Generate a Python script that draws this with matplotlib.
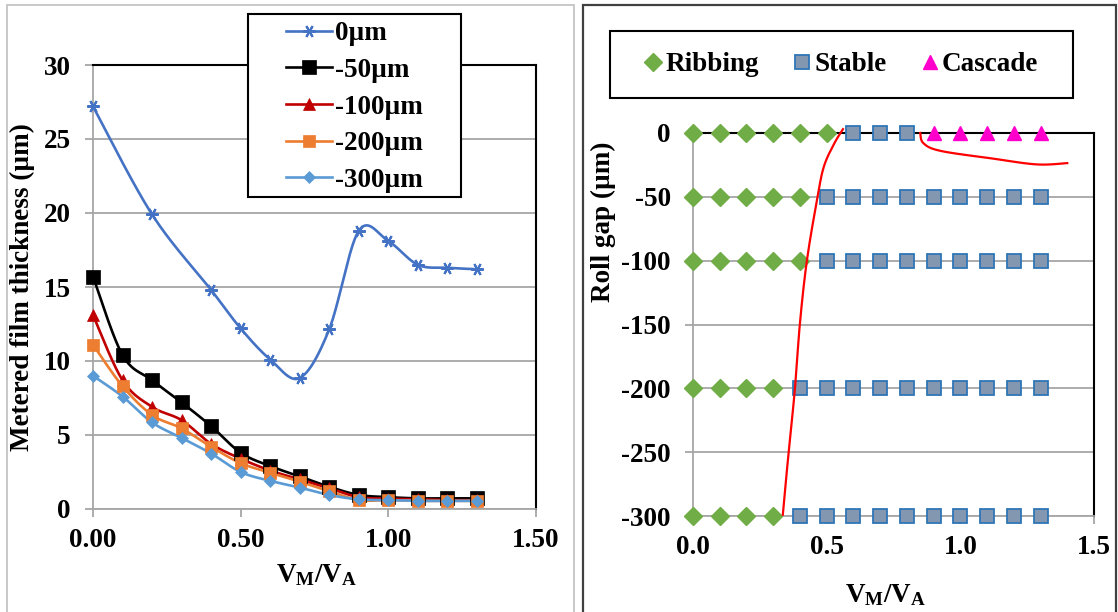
import numpy as np
import matplotlib
matplotlib.use("Agg")
import matplotlib.pyplot as plt
from matplotlib.patches import Rectangle
from matplotlib.ticker import FormatStrFormatter

plt.rcParams['font.family'] = ['Liberation Serif', 'DejaVu Serif']
plt.rcParams['font.weight'] = 'bold'
plt.rcParams['axes.labelweight'] = 'bold'
plt.rcParams['axes.unicode_minus'] = False
plt.rcParams['mathtext.fontset'] = 'custom'
plt.rcParams['mathtext.rm'] = 'Liberation Serif:bold'
plt.rcParams['mathtext.it'] = 'Liberation Serif:bold'
plt.rcParams['mathtext.bf'] = 'Liberation Serif:bold'

# ---- datos panel izquierdo (espesor de pelicula) ----
vm_0 = [0.0, 0.2, 0.4, 0.5, 0.6, 0.7, 0.8, 0.9, 1.0, 1.1, 1.2, 1.3]
h_0 = [27.2, 19.9, 14.8, 12.2, 10.1, 8.85, 12.15, 18.8, 18.1, 16.5, 16.3, 16.2]

vm = [0.0, 0.1, 0.2, 0.3, 0.4, 0.5, 0.6, 0.7, 0.8, 0.9, 1.0, 1.1, 1.2, 1.3]
h_50 = [15.7, 10.4, 8.7, 7.2, 5.6, 3.8, 2.9, 2.2, 1.5, 0.95, 0.8, 0.72, 0.72, 0.72]
h_100 = [13.1, 8.7, 6.9, 6.0, 4.4, 3.4, 2.6, 2.0, 1.4, 0.8, 0.7, 0.65, 0.6, 0.6]
h_200 = [11.1, 8.3, 6.35, 5.45, 4.2, 3.1, 2.45, 1.85, 1.2, 0.6, 0.6, 0.55, 0.55, 0.55]
h_300 = [9.0, 7.6, 5.85, 4.8, 3.75, 2.5, 1.9, 1.45, 0.95, 0.65, 0.6, 0.55, 0.55, 0.55]

# ---- datos panel derecho (mapa de estabilidad) ----
ribbing_x = [0.0, 0.1, 0.2, 0.3, 0.4, 0.5,
             0.0, 0.1, 0.2, 0.3, 0.4,
             0.0, 0.1, 0.2, 0.3, 0.4,
             0.0, 0.1, 0.2, 0.3,
             0.0, 0.1, 0.2, 0.3]
ribbing_y = [0] * 6 + [-50] * 5 + [-100] * 5 + [-200] * 4 + [-300] * 4

stable_x = ([0.6, 0.7, 0.8]
            + [0.5, 0.6, 0.7, 0.8, 0.9, 1.0, 1.1, 1.2, 1.3]
            + [0.5, 0.6, 0.7, 0.8, 0.9, 1.0, 1.1, 1.2, 1.3]
            + [0.4, 0.5, 0.6, 0.7, 0.8, 0.9, 1.0, 1.1, 1.2, 1.3]
            + [0.4, 0.5, 0.6, 0.7, 0.8, 0.9, 1.0, 1.1, 1.2, 1.3])
stable_y = [0] * 3 + [-50] * 9 + [-100] * 9 + [-200] * 10 + [-300] * 10

cascade_x = [0.9, 1.0, 1.1, 1.2, 1.3]
cascade_y = [0, 0, 0, 0, 0]

# curvas limite dibujadas a mano (rojo)
limit1_x = [0.561, 0.529, 0.49, 0.465, 0.426, 0.40, 0.381, 0.355, 0.336]
limit1_y = [3, -8, -26, -51, -100, -149, -201, -256, -299]
limit2_x = [0.85, 0.862, 0.926, 1.12, 1.286, 1.40]
limit2_y = [0, -8, -14, -20, -24.6, -23.6]


def suavizar(x, y, n=24):
    # curva suavizada tipo Excel (Bezier / Catmull-Rom)
    p = np.column_stack([x, y]).astype(float)
    p = np.vstack([p[0], p, p[-1]])
    out = []
    t = np.linspace(0, 1, n)[:, None]
    for i in range(1, len(p) - 2):
        p0, p1, p2, p3 = p[i - 1], p[i], p[i + 1], p[i + 2]
        c1 = p1 + (p2 - p0) / 6
        c2 = p2 - (p3 - p1) / 6
        seg = ((1 - t) ** 3) * p1 + 3 * ((1 - t) ** 2) * t * c1 + 3 * (1 - t) * t ** 2 * c2 + t ** 3 * p2
        out.append(seg)
    out = np.vstack(out)
    return out[:, 0], out[:, 1]


W, H = 1118, 612
fig = plt.figure(figsize=(W / 100, H / 100), dpi=100)

FS = 19.5
grid_c = '#A6A6A6'

# marcos de los dos graficos
fig.add_artist(Rectangle((7 / W, -0.01), (574 - 7) / W, 1 - 5 / H + 0.01,
                         transform=fig.transFigure, fill=False, edgecolor='#BFBFBF', lw=1.2))
fig.add_artist(Rectangle((583 / W, -0.01), (1116 - 583) / W, 1 - 5 / H + 0.01,
                         transform=fig.transFigure, fill=False, edgecolor='#404040', lw=1.6))


def estilo_ejes(ax):
    ax.set_axisbelow(True)
    ax.grid(True, axis='y', color=grid_c, lw=1.3)
    ax.spines['top'].set_color('black')
    ax.spines['right'].set_color('black')
    ax.spines['top'].set_linewidth(1.5)
    ax.spines['right'].set_linewidth(1.5)
    ax.spines['left'].set_color(grid_c)
    ax.spines['bottom'].set_color(grid_c)
    ax.spines['left'].set_linewidth(1.3)
    ax.spines['bottom'].set_linewidth(1.3)
    ax.tick_params(axis='both', direction='out', length=6, width=1.3, color=grid_c,
                   labelsize=FS)
    ax.tick_params(axis='y', pad=10)
    ax.tick_params(axis='x', pad=8)


# ---- panel izquierdo ----
ax1 = fig.add_axes([93 / W, 1 - 509 / H, (536 - 93) / W, (509 - 65) / H])
star = (6, 2, 90)
series = [
    (vm_0, h_0, '0µm', '#4472C4', star, 9),
    (vm, h_50, '-50µm', 'black', 's', 9.5),
    (vm, h_100, '-100µm', '#C00000', '^', 8),
    (vm, h_200, '-200µm', '#ED7D31', 's', 8.5),
    (vm, h_300, '-300µm', '#5B9BD5', 'D', 6.5),
]
handles = []
for x, y, lab, col, mk, ms in series:
    mw = 1.5 if mk == star else 0.5
    xs, ys = suavizar(x, y)
    ax1.plot(xs, ys, color=col, lw=1.9, zorder=3, clip_on=False)
    ax1.plot(x, y, ls='none', marker=mk, ms=ms, color=col, mec=col,
             mew=mw, zorder=4, clip_on=False)
    h, = ax1.plot([], [], color=col, lw=1.9, marker=mk, ms=ms, mec=col,
                  mew=mw, label=lab)
    handles.append(h)

ax1.set_xlim(0, 1.5)
ax1.set_ylim(0, 30)
ax1.set_xticks([0, 0.5, 1.0, 1.5])
ax1.set_yticks([0, 5, 10, 15, 20, 25, 30])
ax1.xaxis.set_major_formatter(FormatStrFormatter('%.2f'))
estilo_ejes(ax1)
ax1.set_ylabel('Metered film thickness (µm)', fontsize=FS)
ax1.yaxis.set_label_coords((35 - 93) / 443, 0.5)
ax1.set_xlabel(r'$\mathrm{V_M/V_A}$', fontsize=FS)
ax1.xaxis.set_label_coords(0.506, (509 - 562) / 444)

fig.add_artist(Rectangle((248 / W, 1 - 197 / H), 213 / W, 183 / H,
                         transform=fig.transFigure, facecolor='white', edgecolor='black',
                         lw=1.5, zorder=2))
fig.legend(handles=handles, loc='center', bbox_to_anchor=(354.5 / W, 1 - 107 / H),
           bbox_transform=fig.transFigure, frameon=False, fontsize=FS,
           handlelength=1.7, handletextpad=0.1, labelspacing=0.43, borderpad=0)

# ---- panel derecho ----
ax2 = fig.add_axes([693 / W, 1 - 516 / H, 401 / W, 383 / H])
ax2.plot(ribbing_x, ribbing_y, ls='none', marker='D', ms=9.5, color='#70AD47',
         mec='#70AD47', zorder=4, clip_on=False, label='Ribbing')
ax2.plot(stable_x, stable_y, ls='none', marker='s', ms=9.5, color='#8497B0',
         mec='#2E75B6', mew=1.3, zorder=4, clip_on=False, label='Stable')
ax2.plot(cascade_x, cascade_y, ls='none', marker='^', ms=9.5, color='#FF00CC',
         mec='#FF00CC', zorder=4, clip_on=False, label='Cascade')
for lx, ly in [(limit1_x, limit1_y), (limit2_x, limit2_y)]:
    xs, ys = suavizar(lx, ly)
    ax2.plot(xs, ys, color='red', lw=1.6, zorder=5, clip_on=False)

ax2.set_xlim(0, 1.5)
ax2.set_ylim(-300, 0)
ax2.set_xticks([0, 0.5, 1.0, 1.5])
ax2.set_yticks(np.arange(-300, 1, 50))
ax2.xaxis.set_major_formatter(FormatStrFormatter('%.1f'))
estilo_ejes(ax2)
ax2.set_ylabel('Roll gap (µm)', fontsize=FS)
ax2.yaxis.set_label_coords((616 - 693) / 401, (516 - 222) / 383)
ax2.set_xlabel(r'$\mathrm{V_M/V_A}$', fontsize=FS)
ax2.xaxis.set_label_coords((886 - 693) / 401, (516 - 582) / 383)

fig.add_artist(Rectangle((610 / W, 1 - 98 / H), 463 / W, 67 / H,
                         transform=fig.transFigure, facecolor='white', edgecolor='black',
                         lw=1.5, zorder=2))
fig.legend(*ax2.get_legend_handles_labels(), loc='center',
           bbox_to_anchor=(841.5 / W, 1 - 64.5 / H), bbox_transform=fig.transFigure,
           frameon=False, fontsize=FS, ncol=3, handlelength=0.6, handletextpad=0.15,
           columnspacing=1.3, borderpad=0)

fig.savefig('out.png', dpi=100)
